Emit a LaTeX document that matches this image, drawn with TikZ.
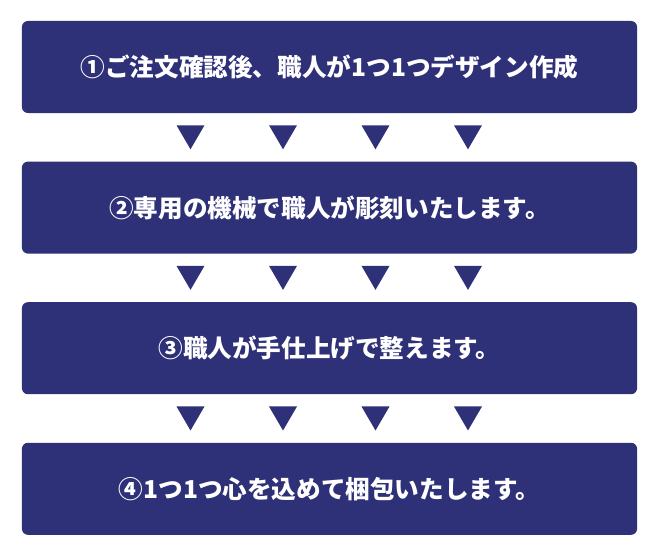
\documentclass[tikz,border=0pt]{standalone}
\usepackage{fontspec}
\newfontfamily\jpfont{Noto Sans CJK JP}
\usetikzlibrary{positioning,calc}
\definecolor{navy}{HTML}{2E3078}

\begin{document}
\begin{tikzpicture}[
        x=0.025cm, y=-0.025cm,
        node distance=1.2cm,
        block/.style={rectangle, rounded corners=0.15cm, fill=navy, text=white, minimum width=15.375cm, minimum height=2.3cm, font=\jpfont\bfseries\fontsize{17.5}{20}\selectfont, inner sep=0pt},
        marker/.style={fill=navy}
    ]
    \useasboundingbox (0,0) rectangle (660,557);
    % Steps
    \node[block] (s1) at (329.5,67) {①ご注文確認後、職人が1つ1つデザイン作成};
    \node[block, below=of s1] (s2) {②専用の機械で職人が彫刻いたします。};
    \node[block, below=of s2] (s3) {③職人が手仕上げで整えます。};
    \node[block, below=of s3] (s4) {④1つ1つ心を込めて梱包いたします。};
    % Triangles between steps
    \foreach \a/\b in {s1/s2, s2/s3, s3/s4}
        \foreach \x in {190.5, 283, 375.5, 468}
            \fill[marker] ($(\x,0)!(\a.south)!(\x,10)$) ++(-14,12) -- ++(28,0) -- ++(-14,24) -- cycle;
\end{tikzpicture}
\end{document}
